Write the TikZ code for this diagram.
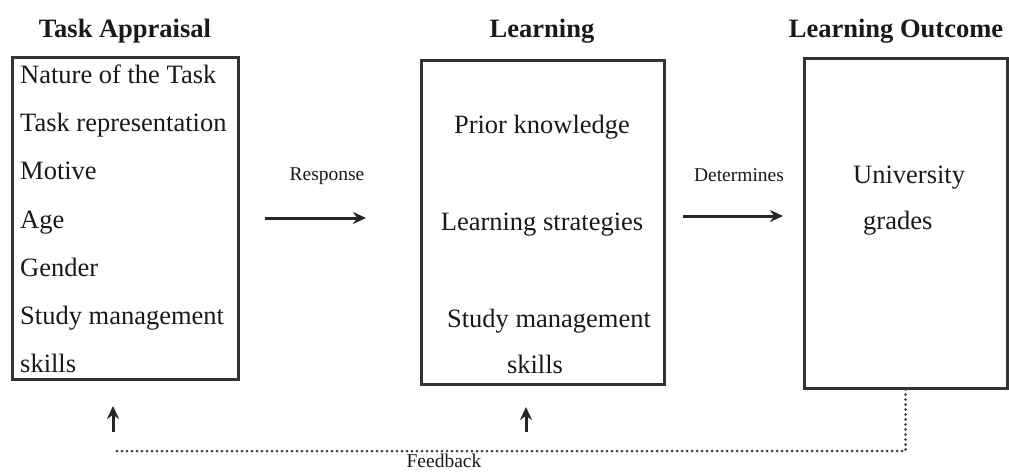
\documentclass[tikz,border=0pt]{standalone}
\usepackage{fontspec}
\setmainfont{Liberation Serif}
\usetikzlibrary{arrows.meta}
\tikzstyle{panel}=[draw=black!80,line width=3pt,inner sep=0pt]
\tikzstyle{item}=[font=\fontsize{26.5}{30}\selectfont,inner sep=0pt,text=black!90]
\tikzstyle{heading}=[font=\bfseries\fontsize{26.5}{30}\selectfont,inner sep=0pt,anchor=base,text=black!90]
\tikzstyle{note}=[font=\fontsize{19.5}{22}\selectfont,inner sep=0pt,anchor=base,text=black!90]
\tikzstyle{flow}=[draw=black!85,line width=3pt,-{Stealth[length=13pt,width=12pt]}]
\tikzstyle{feedback}=[draw=black!75,line width=3pt,line cap=round,dash pattern=on 0pt off 5pt]

\begin{document}
\begin{tikzpicture}[x=1pt,y=-1pt]
    \useasboundingbox (0,0) rectangle (1009,472);
    % First we draw the three boxes
    \node[panel,minimum width=226pt,minimum height=322pt] (appraisal) at (125,218) {};
    \node[panel,minimum width=243pt,minimum height=324pt] (learning) at (542.5,222) {};
    \node[panel,minimum width=203pt,minimum height=330pt] (outcome) at (905.5,223) {};
    % Headings above the boxes
    \foreach \pos/\name/\txt in {{(125,37)/hA/Task Appraisal}, {(542,37)/hL/Learning}, {(896,37)/hO/Learning Outcome}}
        \node[heading] (\name) at \pos {\txt};
    % Contents of the boxes
    \foreach \y/\name/\txt in {83/nature/Nature of the Task, 131/repr/Task representation, 179/motive/Motive, 228/age/Age, 276/gender/Gender, 324/study/Study management, 372/skills/skills}
        \node[item,anchor=base west] (\name) at (20,\y) {\txt};
    \foreach \pos/\name/\txt in {{(542,133)/prior/Prior knowledge}, {(542,230)/strat/Learning strategies}, {(549,327)/lstudy/Study management}, {(535,373)/lskills/skills}}
        \node[item,anchor=base] (\name) at \pos {\txt};
    \node[item,anchor=base west] (univ) at (853,183) {University};
    \node[item,anchor=base west] (grades) at (863,229) {grades};
    % Arrows between the boxes and their labels
    \node[note] (response) at (327,180) {Response};
    \node[note] (determines) at (739,181) {Determines};
    \coordinate (r1) at (265,218);
    \coordinate (r2) at (366,218);
    \coordinate (d1) at (683,216);
    \coordinate (d2) at (783,216);
    \path[flow] (r1) -- (r2);
    \path[flow] (d1) -- (d2);
    % Feedback loop
    \coordinate (f0) at (113,451);
    \coordinate (u1) at (113,432);
    \coordinate (u1t) at (113,406);
    \coordinate (u2) at (526,432);
    \coordinate (u2t) at (526,407);
    \path[feedback] (outcome.south) |- (f0);
    \path[flow] (u1) -- (u1t);
    \path[flow] (u2) -- (u2t);
    \node[note] (fb) at (444,467) {Feedback};
\end{tikzpicture}
\end{document}
